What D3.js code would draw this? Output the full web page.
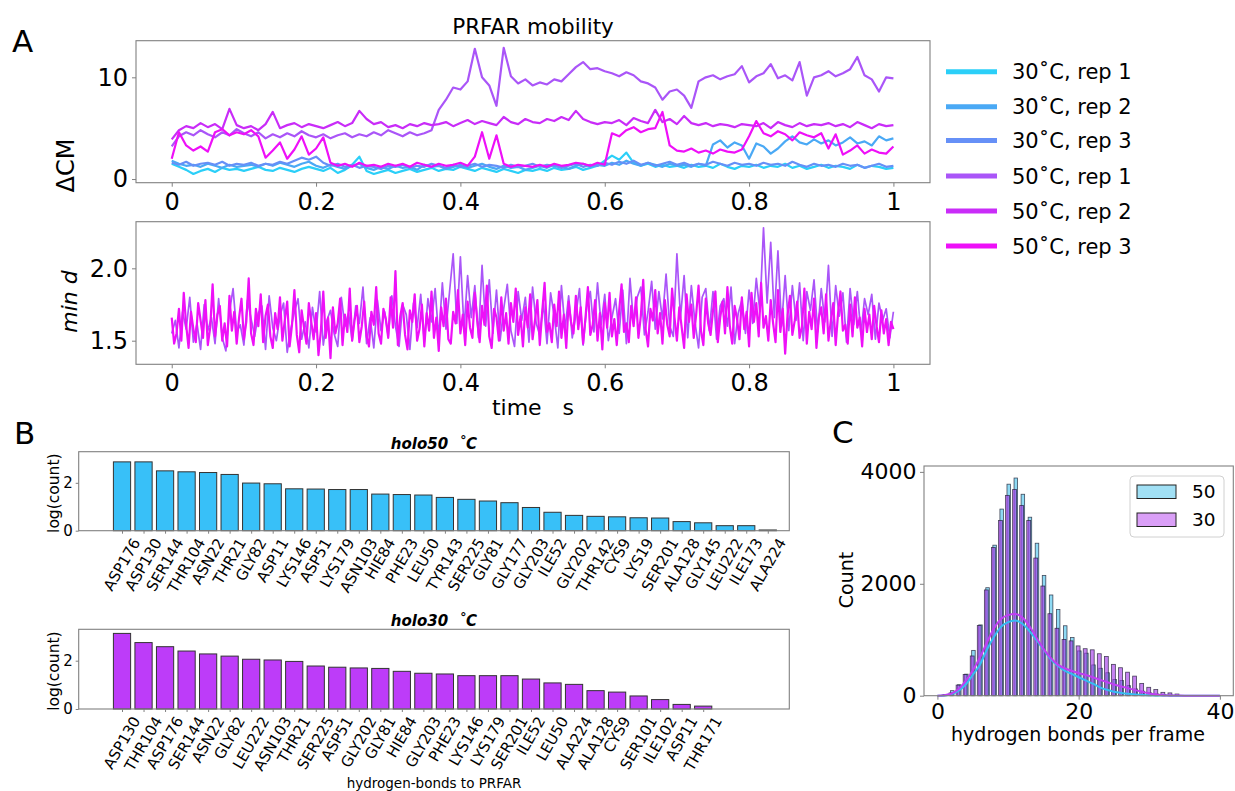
<!DOCTYPE html>
<html><head><meta charset="utf-8">
<script src="https://cdn.jsdelivr.net/npm/d3@7"></script>
<style>
body{margin:0;background:#fff;}
svg{font-family:"DejaVu Sans",sans-serif;}
</style></head>
<body><svg id="c" width="1235" height="791"></svg>
<script>
// ---------------- DATA ----------------
const seriesNames = ["30˚C, rep 1","30˚C, rep 2","30˚C, rep 3","50˚C, rep 1","50˚C, rep 2","50˚C, rep 3"];
const seriesColors = ["#2bcff8","#4aa9f5","#6690f7","#aa55f8","#c92cf8","#ee10f8"];
const timeCM = d3.range(101).map(i => i/100);
const cm30r1 = [1.5,1.2,0.9,0.5,0.8,1.0,0.7,1.1,0.9,1.0,0.8, 1.0,1.2,0.9,0.8,1.1,0.9,0.7,1.0,1.2,1.0, 0.8,1.1,0.6,0.9,1.4,2.2,0.8,0.5,0.7,0.9, 0.6,0.8,1.0,0.7,0.9,1.1,0.8,1.0,0.9,1.2, 1.0,0.8,1.1,0.9,0.7,1.0,0.8,0.6,0.9,0.8, 1.0,0.8,1.1,0.9,1.0,1.2,0.9,1.1,1.3,1.8, 2.3,1.9,2.6,1.6,1.3,1.5,1.2,1.4,1.2,1.3, 1.1,1.4,1.2,1.3,1.1,1.5,1.2,1.0,1.3,1.2, 1.4,1.1,1.3,1.2,1.5,1.1,1.3,1.0,1.2,1.4, 1.1,1.3,1.2,1.0,1.4,1.1,1.3,1.2,1.0,1.1];
const cm30r2 = [1.8,1.5,1.3,1.4,1.2,1.5,1.3,1.1,1.4,1.2,1.3, 1.4,1.2,1.5,1.3,1.6,1.4,1.2,1.5,1.7,1.3, 1.1,1.4,1.2,1.0,1.3,1.5,1.1,0.9,1.2,1.0, 1.3,1.1,1.2,0.9,1.4,1.2,1.3,1.0,1.2,1.4, 1.1,1.3,1.5,1.2,1.0,1.3,1.1,1.2,0.9,1.1, 1.3,1.1,1.4,1.2,1.0,1.3,1.5,1.2,1.4,1.3, 1.6,1.4,1.8,1.5,1.3,1.6,1.4,1.2,1.5,1.3, 1.4,1.2,1.5,1.3,3.4,3.8,3.1,3.6,3.3,2.0, 3.5,3.2,2.5,3.0,3.7,4.2,3.6,3.4,3.9,3.5, 3.8,3.3,3.6,4.1,3.5,3.7,3.3,4.2,3.8,4.0];
const cm30r3 = [1.6,1.4,1.7,1.3,1.5,1.6,1.4,1.7,1.3,1.5,1.4, 1.6,1.3,1.5,1.4,1.7,1.5,1.8,2.1,1.9,2.2, 1.6,1.3,1.5,1.2,1.4,1.1,1.3,1.2,1.0,1.3, 1.2,1.4,1.1,1.3,1.2,1.5,1.3,1.1,1.4,1.2, 1.3,1.5,1.2,1.4,1.3,1.1,1.4,1.2,1.3,1.5, 1.2,1.4,1.3,1.1,1.3,1.5,1.2,1.4,1.3,1.6, 1.4,1.7,1.5,1.8,1.4,1.6,1.3,1.5,1.7,1.4, 1.6,1.3,1.5,1.4,1.7,1.5,1.3,1.6,1.4,1.5, 1.3,1.6,1.4,1.5,1.3,1.7,1.4,1.2,1.5,1.3, 1.4,1.2,1.5,1.3,1.4,1.1,1.3,1.5,1.2,1.3];
const cm50r1 = [3.2,4.2,4.6,4.3,4.8,4.4,4.1,4.6,4.3,4.9,4.5, 4.2,4.6,4.0,4.4,4.1,4.5,4.2,4.7,4.3,4.1, 4.4,4.0,4.3,4.5,4.1,4.4,4.2,4.6,4.3,4.8, 4.5,4.2,4.6,4.3,4.5,4.8,6.8,7.8,9.0,8.8, 9.6,12.8,10.0,9.2,7.2,12.9,10.1,9.4,9.8,9.2, 9.5,9.3,9.8,9.6,10.3,11.0,11.5,10.8,10.9,10.6, 10.4,10.1,10.5,10.2,9.6,9.4,9.0,7.8,8.6,8.8, 8.2,7.0,9.6,10.0,10.2,9.8,10.1,10.3,11.1,9.5, 10.1,10.4,11.3,9.9,10.2,9.7,11.5,8.2,10.0,10.2, 10.6,10.1,10.4,10.8,12.0,10.2,9.8,8.6,10.0,9.9];
const cm50r2 = [3.9,4.8,5.2,5.0,5.5,5.1,5.4,4.9,6.9,5.3,5.0, 5.2,4.8,5.4,6.6,5.0,5.3,5.5,5.1,5.4,5.2, 5.0,5.3,5.6,5.2,5.5,6.7,5.9,5.4,5.6,5.1, 5.3,5.0,5.4,5.2,5.5,5.3,5.4,5.6,5.2,5.5, 5.8,5.4,5.7,5.5,5.3,6.1,5.6,5.4,5.9,5.6, 5.5,5.9,5.7,6.1,5.8,6.7,5.9,5.6,5.4,5.6, 5.5,5.8,5.3,6.0,5.7,5.5,6.8,5.6,5.9,5.4, 6.2,5.5,5.3,5.5,5.2,5.4,5.3,5.1,5.4,5.3, 5.2,5.5,5.0,5.6,5.3,5.1,5.5,5.2,5.4,5.3, 5.5,5.2,5.4,5.1,5.6,5.3,5.0,5.4,5.2,5.3];
const cm50r3 = [2.0,4.6,3.3,2.8,3.2,2.7,4.6,4.9,4.3,4.6,4.4, 4.8,4.2,2.1,2.8,3.6,2.0,2.9,4.2,2.4,3.0, 4.1,1.6,1.3,1.5,1.2,1.6,1.3,1.4,1.2,1.5, 1.3,1.5,1.2,1.6,1.4,1.2,1.5,1.3,1.4,1.6, 1.3,2.2,4.6,2.0,4.3,1.5,1.2,1.4,1.3,1.2, 1.4,1.2,1.5,1.3,1.4,1.6,1.5,1.3,1.6,1.4, 4.5,4.2,4.8,5.1,4.6,4.9,5.0,6.6,3.3,2.8, 2.7,3.0,2.6,2.8,2.5,2.9,2.7,2.6,2.9,4.2, 5.7,4.5,4.2,4.7,4.4,3.8,4.6,4.3,4.1,4.5, 3.0,4.4,2.4,2.8,3.3,2.5,2.9,2.6,2.5,3.2];

const timeMinA = d3.range(201).map(i => i/200);
const timeMinB = d3.range(301).map(i => i/300);
const mind50r1 = [1.55,1.64,1.45,1.70,1.58,1.80,1.49,1.62,1.44,1.75, 1.57,1.66,1.48,1.79,1.52,1.43,1.70,1.86,1.56,1.61, 1.47,1.78,1.65,1.53,1.69,1.74,1.44,1.81,1.59,1.50, 1.67,1.76,1.42,1.58,1.70,1.79,1.51,1.63,1.45,1.73, 1.56,1.84,1.47,1.64,1.71,1.55,1.46,1.80,1.60,1.69, 1.50,1.74,1.62,1.87,1.48,1.66,1.45,1.78,1.57,1.70, 1.53,1.81,1.60,1.46,1.75,1.68,1.44,1.76,1.59,1.82, 1.49,1.79,1.63,1.86,1.52,1.90,1.58,1.84,2.10,1.62, 2.08,1.58,1.95,1.66,1.88,1.52,2.02,1.60,1.92,1.55, 1.85,1.50,1.72,1.89,1.57,1.46,1.84,1.64,1.80,1.49, 1.87,1.62,1.54,1.76,1.48,1.83,1.67,1.45,1.88,1.58, 1.81,1.52,1.68,1.86,1.47,1.73,1.84,1.56,1.90,1.61, 1.82,1.50,1.66,1.79,1.55,1.85,1.48,1.93,1.62,1.80, 1.87,1.54,1.70,1.91,1.58,1.84,1.65,1.96,1.60,1.53, 2.10,1.66,1.95,1.52,1.88,1.63,1.45,1.80,1.86,1.57, 1.84,1.51,1.74,1.79,1.60,1.87,1.48,1.69,1.78,1.55, 1.85,1.62,1.93,1.70,2.28,1.76,2.18,1.66,2.12,1.60, 1.95,1.57,1.88,1.64,1.90,1.50,1.84,1.71,1.92,1.56, 1.86,1.63,2.02,1.53,1.88,1.67,1.83,1.49,1.86,1.61, 1.84,1.55,1.79,1.68,1.82,1.51,1.76,1.64,1.72,1.52, 1.70];
const mind50r3 = [1.66,1.48,1.55,1.72,1.50,1.83,1.61,1.45,1.70,1.58, 1.49,1.76,1.64,1.52,1.78,1.47,1.59,1.89,1.53,1.68, 1.74,1.50,1.62,1.46,1.81,1.57,1.70,1.48,1.66,1.79, 1.51,1.63,1.93,1.55,1.47,1.72,1.60,1.82,1.49,1.67, 1.75,1.53,1.45,1.69,1.58,1.80,1.50,1.64,1.77,1.46, 1.61,1.85,1.54,1.42,1.71,1.59,1.48,1.76,1.63,1.51, 1.69,1.40,1.57,1.84,1.52,1.66,1.38,1.73,1.55,1.62, 1.79,1.47,1.68,1.56,1.86,1.50,1.64,1.74,1.49,1.60, 1.77,1.53,1.46,1.70,1.61,1.87,1.55,1.48,1.72,1.65, 1.52,1.80,1.59,1.98,1.47,1.67,1.76,1.54,1.44,1.71, 1.63,1.82,1.50,1.58,1.75,1.46,1.69,1.57,1.84,1.52, 1.66,1.43,1.73,1.60,1.79,1.51,1.48,1.70,1.62,1.85, 1.55,1.68,1.47,1.77,1.59,1.52,1.83,1.64,1.49,1.74, 1.61,1.88,1.53,1.45,1.72,1.66,1.50,1.80,1.57,1.69, 1.48,1.76,1.63,1.86,1.54,1.67,1.46,1.73,1.59,1.82, 1.51,1.64,1.78,1.47,1.70,1.90,1.56,1.62,1.49,1.75, 1.60,1.84,1.52,1.68,1.45,1.77,1.63,1.55,1.81,1.58, 1.73,1.48,1.66,1.87,1.54,1.61,1.78,1.50,1.69,1.44, 1.76,1.59,1.83,1.53,1.65,1.47,1.71,1.89,1.56,1.62, 1.49,1.74,1.60,1.80,1.52,1.67,1.92,1.58,1.46,1.72, 1.64,1.85,1.55,1.69,1.48,1.78,1.61,1.53,1.86,1.66, 1.50,1.73,1.59,1.45,1.82,1.63,1.75,1.52,1.68,1.88, 1.57,1.47,1.79,1.62,1.54,1.71,1.84,1.49,1.66,1.77, 1.55,1.87,1.60,1.48,1.74,1.65,1.51,1.80,1.58,1.70, 1.46,1.83,1.63,1.76,1.53,1.90,1.59,1.67,1.50,1.78, 1.62,1.49,1.85,1.56,1.72,1.41,1.68,1.81,1.54,1.64, 1.77,1.52,1.60,1.86,1.48,1.70,1.58,1.79,1.45,1.66, 1.73,1.55,1.82,1.50,1.64,1.76,1.47,1.69,1.84,1.57, 1.61,1.48,1.75,1.53,1.80,1.59,1.66,1.46,1.72,1.56, 1.68,1.51,1.74,1.60,1.49,1.71,1.55,1.65,1.47,1.63, 1.58];

const res50 = ["ASP176","ASP130","SER144","THR104","ASN22","THR21","GLY82","ASP11","LYS146","ASP51","LYS179","ASN103","HIE84","PHE23","LEU50","TYR143","SER225","GLY81","GLY177","GLY203","ILE52","GLY202","THR142","CYS9","LYS19","SER201","ALA128","GLY145","LEU222","ILE173","ALA224"];
const log50 = [2.875,2.875,2.50,2.46,2.43,2.35,1.99,1.96,1.75,1.74,1.72,1.72,1.53,1.51,1.49,1.39,1.31,1.24,1.17,0.97,0.77,0.64,0.60,0.58,0.54,0.53,0.38,0.33,0.21,0.21,0.03];
const res30 = ["ASP130","THR104","ASP176","SER144","ASN22","GLY82","LEU222","ASN103","THR21","SER225","ASP51","GLY202","GLY81","HIE84","GLY203","PHE23","LYS146","LYS179","SER201","ILE52","LEU50","ALA224","ALA128","CYS9","SER101","ILE102","ASP11","THR171"];
const log30 = [3.13,2.75,2.58,2.40,2.28,2.19,2.06,2.03,1.97,1.78,1.73,1.70,1.68,1.56,1.48,1.45,1.38,1.38,1.38,1.24,1.08,1.02,0.76,0.70,0.54,0.39,0.19,0.12];

const hbBins = d3.range(1, 36);
const hist50 = [20,90,195,385,810,1265,1930,2690,3335,3780,3890,3600,3190,2725,2150,1800,1540,1250,1040,800,760,550,490,410,290,270,180,120,80,50,30,20,10,5,0];
const hist30 = [15,50,190,380,710,1255,1890,2650,3130,3580,3685,3400,3130,2460,1960,1465,1205,1005,980,890,840,820,750,700,560,500,420,350,220,150,110,60,50,30,5];
const kdeX = d3.range(0, 41);
const kde50 = [0,5,30,90,200,370,550,820,1050,1230,1315,1345,1290,1160,1000,830,660,540,450,390,330,275,215,150,105,72,50,33,22,14,8,5,3,1,0,0,0,0,0,0,0];
const kde30 = [0,10,40,120,260,450,680,950,1200,1370,1440,1460,1400,1250,1040,840,680,560,490,445,405,370,330,285,245,200,165,135,100,70,40,22,10,5,2,0,0,0,0,0,0];

// ---------------- DRAW ----------------
const svg = d3.select("#c");
svg.append("rect").attr("width",1235).attr("height",791).attr("fill","#fff");
const SPINE = "#808080";

function styleAxis(g, fs){
  g.select(".domain").remove();
  g.selectAll(".tick line").attr("stroke", SPINE);
  g.selectAll(".tick text").attr("font-size", fs).attr("fill","#000").attr("font-family","DejaVu Sans");
}
function frame(x0,y0,x1,y1){
  svg.append("rect").attr("x",x0).attr("y",y0).attr("width",x1-x0).attr("height",y1-y0)
    .attr("fill","none").attr("stroke",SPINE).attr("stroke-width",1.1);
}

// ---- Panel A (top): delta CM
const xA = d3.scaleLinear().domain([-0.0495, 1.0507]).range([136, 930]);
const yCM = d3.scaleLinear().domain([-0.36, 13.6]).range([182.7, 40.7]);
const cmSeries = [cm30r1, cm30r2, cm30r3, cm50r1, cm50r2, cm50r3];
const lineCM = d3.line().x((d,i)=>xA(timeCM[i])).y(d=>yCM(d));
cmSeries.forEach((s,k)=>{
  svg.append("path").datum(s).attr("d", lineCM).attr("fill","none")
    .attr("stroke", seriesColors[k]).attr("stroke-width",2.2).attr("stroke-linejoin","round");
});
frame(136,40.7,930,182.7);
const tickFmt = d => d===0 ? "0" : (d===1 ? "1" : d3.format(".1f")(d));
styleAxis(svg.append("g").attr("transform","translate(0,182.7)")
  .call(d3.axisBottom(xA).tickValues([0,0.2,0.4,0.6,0.8,1]).tickFormat(tickFmt).tickSize(4).tickPadding(6).tickSizeOuter(0)), 24);
styleAxis(svg.append("g").attr("transform","translate(136,0)")
  .call(d3.axisLeft(yCM).tickValues([0,10]).tickFormat(d3.format("d")).tickSize(4).tickPadding(4).tickSizeOuter(0)), 24);
svg.append("text").attr("x",533).attr("y",34).attr("text-anchor","middle").attr("font-size",21.5).text("PRFAR mobility");
svg.append("text").attr("transform","translate(74,165.5) rotate(-90)").attr("text-anchor","middle").attr("font-size",24).text("ΔCM");
svg.append("text").attr("x",12).attr("y",52).attr("font-size",31).text("A");

// legend
const legRows = [71.7,106.7,140.5,176,211,246];
seriesNames.forEach((n,k)=>{
  svg.append("line").attr("x1",946).attr("x2",997).attr("y1",legRows[k]).attr("y2",legRows[k])
    .attr("stroke",seriesColors[k]).attr("stroke-width",5);
  svg.append("text").attr("x",1012).attr("y",legRows[k]).attr("dy","0.36em").attr("font-size",21).text(n);
});

// ---- Panel A (bottom): min d
const yMin = d3.scaleLinear().domain([1.337, 2.322]).range([364.3, 221.7]);
svg.append("path").datum(mind50r1)
  .attr("d", d3.line().x((d,i)=>xA(timeMinA[i])).y(d=>yMin(d)))
  .attr("fill","none").attr("stroke", seriesColors[3]).attr("stroke-width",1.7).attr("stroke-linejoin","round");
svg.append("path").datum(mind50r3)
  .attr("d", d3.line().x((d,i)=>xA(timeMinB[i])).y(d=>yMin(d)))
  .attr("fill","none").attr("stroke", seriesColors[5]).attr("stroke-width",2.2).attr("stroke-linejoin","round");
frame(136,221.7,930,364.3);
styleAxis(svg.append("g").attr("transform","translate(0,364.3)")
  .call(d3.axisBottom(xA).tickValues([0,0.2,0.4,0.6,0.8,1]).tickFormat(tickFmt).tickSize(4).tickPadding(6).tickSizeOuter(0)), 24);
styleAxis(svg.append("g").attr("transform","translate(136,0)")
  .call(d3.axisLeft(yMin).tickValues([1.5,2.0]).tickFormat(d3.format(".1f")).tickSize(4).tickPadding(4).tickSizeOuter(0)), 24);
svg.append("text").attr("transform","translate(77,301.5) rotate(-90)").attr("text-anchor","middle")
  .attr("font-size",22).attr("font-style","italic").text("min d");
svg.append("text").attr("x",533).attr("y",415).attr("text-anchor","middle").attr("font-size",22).attr("xml:space","preserve").text("time   s");

// ---- Panel B
const xB = d3.scaleLinear().domain([-2.012, 31.0]).range([78.7, 789.3]);
function barPanel(res, vals, yTop, yBot, color, title, titleY){
  const y = d3.scaleLinear().domain([0,3.3]).range([yBot, yTop]);
  svg.append("g").selectAll("rect").data(vals).join("rect")
    .attr("x",(d,i)=>xB(i-0.4)).attr("width",xB(0.4)-xB(-0.4))
    .attr("y",d=>y(d)).attr("height",d=>yBot-y(d))
    .attr("fill",color).attr("stroke","#333").attr("stroke-width",1);
  frame(78.7,yTop,789.3,yBot);
  styleAxis(svg.append("g").attr("transform",`translate(78.7,0)`)
    .call(d3.axisLeft(y).tickValues([0,2]).tickFormat(d3.format("d")).tickSize(3).tickPadding(3).tickSizeOuter(0)), 15);
  const gx = svg.append("g").attr("transform",`translate(0,${yBot})`)
    .call(d3.axisBottom(xB).tickValues(d3.range(res.length)).tickFormat("").tickSize(3).tickSizeOuter(0));
  styleAxis(gx, 15);
  const lg = svg.append("g");
  res.forEach((r,i)=>{
    const t = lg.append("text").attr("font-size",15).attr("text-anchor","middle")
      .attr("dominant-baseline","central").text(r);
    const L = t.node().getComputedTextLength();
    const h = 15*0.78;
    const H = L*Math.sin(Math.PI/3) + h*Math.cos(Math.PI/3);
    t.attr("transform",`translate(${xB(i)},${yBot+6+H/2}) rotate(-60)`);
  });
  svg.append("text").attr("transform",`translate(58.5,${(yTop+yBot)/2+2}) rotate(-90)`)
    .attr("text-anchor","middle").attr("font-size",15.5).text("log(count)");
  svg.append("text").attr("x",434).attr("y",titleY).attr("text-anchor","middle")
    .attr("font-size",15).attr("font-weight","bold").attr("font-style","italic")
    .attr("xml:space","preserve").text(title);
}
barPanel(res50, log50, 451.7, 530.7, "#38c0f8", "holo50  ˚C", 448.5);
barPanel(res30, log30, 629.3, 709, "#bd3cf9", "holo30  ˚C", 626);
svg.append("text").attr("x",434).attr("y",788).attr("text-anchor","middle").attr("font-size",13.5).text("hydrogen-bonds to PRFAR");
svg.append("text").attr("x",14).attr("y",444).attr("font-size",31).text("B");

// ---- Panel C
const xC = d3.scaleLinear().domain([-1.9, 41.9]).range([924, 1233.3]);
const yC = d3.scaleLinear().domain([0, 4105]).range([695.7, 466]);
svg.append("g").selectAll("rect").data(hist50).join("rect")
  .attr("x",(d,i)=>xC(hbBins[i]-0.15)).attr("width",xC(0.35)-xC(-0.15))
  .attr("y",d=>yC(d)).attr("height",d=>695.7-yC(d))
  .attr("fill","#44c2ec").attr("fill-opacity",0.6).attr("stroke","#141428").attr("stroke-opacity",0.75).attr("stroke-width",0.8);
svg.append("g").selectAll("rect").data(hist30).join("rect")
  .attr("x",(d,i)=>xC(hbBins[i]-0.35)).attr("width",xC(0.2)-xC(-0.35))
  .attr("y",d=>yC(d)).attr("height",d=>695.7-yC(d))
  .attr("fill","#a235e8").attr("fill-opacity",0.62).attr("stroke","#141428").attr("stroke-opacity",0.75).attr("stroke-width",0.8);
const kdeCurve = d3.curveMonotoneX;
svg.append("path").datum(kde50).attr("d", d3.line().curve(kdeCurve).x((d,i)=>xC(kdeX[i])).y(d=>yC(d)))
  .attr("fill","none").attr("stroke","#35bdf2").attr("stroke-width",2);
svg.append("path").datum(kde30).attr("d", d3.line().curve(kdeCurve).x((d,i)=>xC(kdeX[i])).y(d=>yC(d)))
  .attr("fill","none").attr("stroke","#c03ef2").attr("stroke-width",2);
frame(924,466,1233.3,695.7);
styleAxis(svg.append("g").attr("transform","translate(0,695.7)")
  .call(d3.axisBottom(xC).tickValues([0,20,40]).tickFormat(d3.format("d")).tickSize(4).tickPadding(3.5).tickSizeOuter(0)), 22);
styleAxis(svg.append("g").attr("transform","translate(924,0)")
  .call(d3.axisLeft(yC).tickValues([0,2000,4000]).tickFormat(d3.format("d")).tickSize(4).tickPadding(3.5).tickSizeOuter(0)), 22);
svg.append("text").attr("transform","translate(853,580) rotate(-90)").attr("text-anchor","middle").attr("font-size",19).text("Count");
svg.append("text").attr("x",1078).attr("y",741).attr("text-anchor","middle").attr("font-size",19).text("hydrogen bonds per frame");
svg.append("text").attr("x",832).attr("y",443).attr("font-size",31).text("C");
// legend C
svg.append("rect").attr("x",1130).attr("y",476).attr("width",94).attr("height",61).attr("rx",4)
  .attr("fill","#fff").attr("fill-opacity",0.8).attr("stroke","#d0d0d0");
[["50","#44c2ec",485],["30","#b53ff0",513]].forEach(([lab,c,yy])=>{
  svg.append("rect").attr("x",1137).attr("y",yy).attr("width",39).attr("height",13.5)
    .attr("fill",c).attr("fill-opacity",0.5).attr("stroke","#222").attr("stroke-width",1);
  svg.append("text").attr("x",1192).attr("y",yy+6.7).attr("dy","0.36em").attr("font-size",18.5).text(lab);
});
</script></body></html>
